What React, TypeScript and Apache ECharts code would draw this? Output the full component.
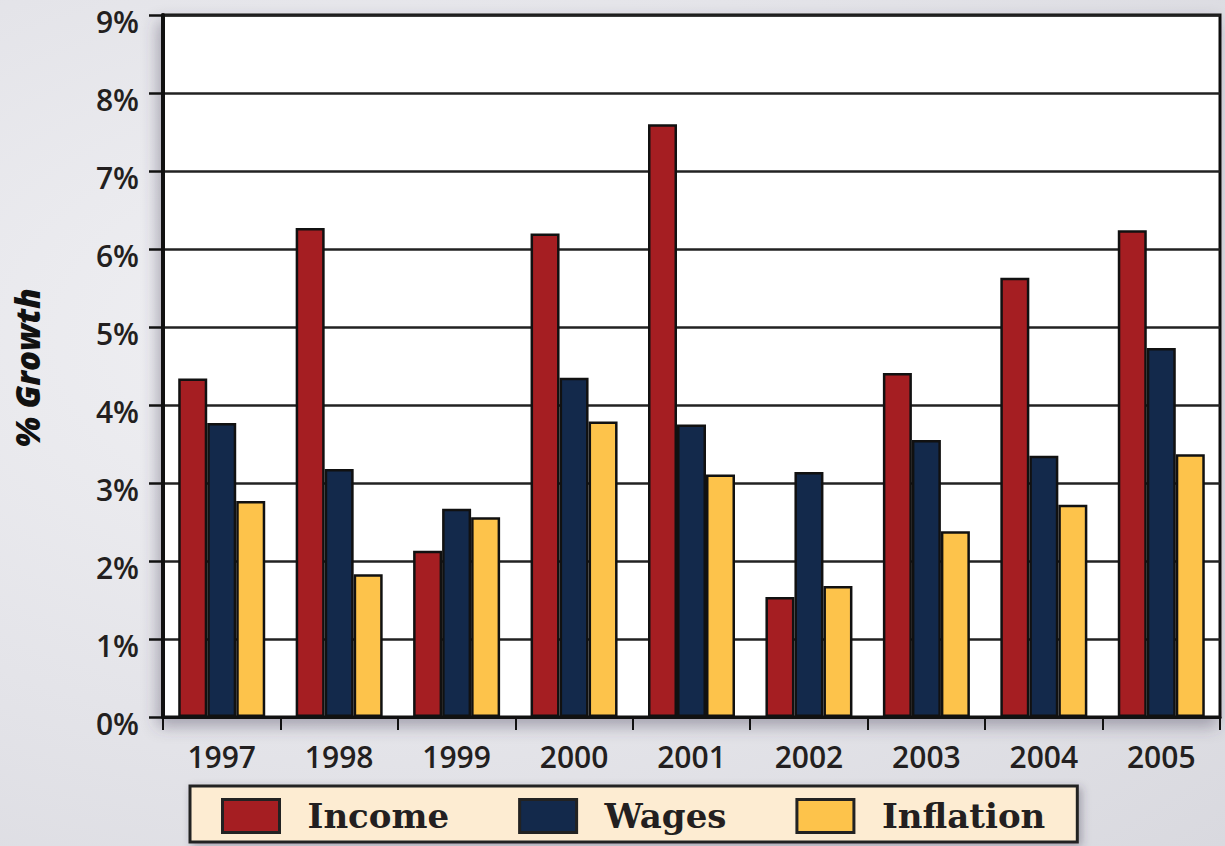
import React, { useEffect, useRef } from "react";
import * as echarts from "echarts";

const years = ["1997", "1998", "1999", "2000", "2001", "2002", "2003", "2004", "2005"];
const income = [4.34, 6.27, 2.13, 6.2, 7.6, 1.54, 4.41, 5.63, 6.24];
const wages = [3.77, 3.18, 2.67, 4.35, 3.75, 3.14, 3.55, 3.35, 4.73];
const inflation = [2.77, 1.83, 2.56, 3.79, 3.11, 1.68, 2.38, 2.72, 3.37];
const seriesNames = ["Income", "Wages", "Inflation"];
const colors = ["#a51e22", "#13294b", "#fdc34b"];
const yAxisTitle = "% Growth";

export default function App() {
  const ref = useRef<HTMLDivElement>(null);
  useEffect(() => {
    if (!ref.current) return;
    const chart = echarts.init(ref.current, null, { renderer: "svg" });
    const dataSets = [income, wages, inflation];
    chart.setOption({
      animation: false,
      backgroundColor: "transparent",
      grid: {
        left: 163,
        right: 5,
        top: 15,
        bottom: 129,
        show: true,
        backgroundColor: "#ffffff",
        borderColor: "#111111",
        borderWidth: 3,
        shadowColor: "rgba(70,60,90,0.4)",
        shadowBlur: 16,
        shadowOffsetX: -4,
        shadowOffsetY: 8,
      },
      graphic: [
        {
          type: "text",
          x: 27,
          y: 368,
          rotation: Math.PI / 2,
          style: {
            text: yAxisTitle,
            fontFamily: "Open Sans",
            fontWeight: 800,
            fontStyle: "italic",
            fontSize: 33,
            fill: "#111111",
            align: "center",
            verticalAlign: "middle",
          },
        },
      ],
      legend: {
        data: seriesNames,
        left: 190,
        top: 786,
        orient: "horizontal",
        selectedMode: false,
        backgroundColor: "#fdecd2",
        borderColor: "#222222",
        borderWidth: 3,
        padding: [12, 32, 8, 31],
        itemWidth: 57,
        itemHeight: 33,
        itemGap: 69,
        icon: "rect",
        shadowColor: "rgba(60,50,70,0.35)",
        shadowBlur: 8,
        shadowOffsetX: 3,
        shadowOffsetY: 3,
        itemStyle: { borderColor: "#222222", borderWidth: 3 },
        textStyle: {
          fontFamily: "DejaVu Serif",
          fontWeight: "bold",
          fontSize: 34,
          color: "#231f20",
          padding: [0, 0, 0, 23],
        },
      },
      xAxis: {
        type: "category",
        data: years,
        axisLine: { show: true, lineStyle: { color: "#111111", width: 3 } },
        axisTick: { show: true, length: 13, lineStyle: { color: "#111111", width: 2 } },
        axisLabel: {
          margin: 24,
          fontFamily: "Open Sans",
          fontWeight: 600,
          fontSize: 30,
          color: "#231f20",
        },
      },
      yAxis: {
        type: "value",
        min: 0,
        max: 9,
        interval: 1,
        axisLine: { show: true, lineStyle: { color: "#111111", width: 4 } },
        axisTick: { show: true, length: 14, lineStyle: { color: "#111111", width: 2.5 } },
        axisLabel: {
          margin: 24,
          formatter: (v: number) => `{a|${v}%}`,
          rich: {
            a: {
              fontFamily: "Open Sans",
              fontWeight: 600,
              fontSize: 30,
              color: "#231f20",
              padding: [12, 0, 0, 0],
            },
          },
        },
        splitLine: { show: true, lineStyle: { color: "#222222", width: 2.5 } },
      },
      series: seriesNames.map((name, i) => ({
        name,
        type: "bar",
        data: dataSets[i],
        barWidth: 29,
        barGap: "0%",
        itemStyle: { color: colors[i], borderColor: "#111111", borderWidth: 2.5 },
      })),
    });
    return () => chart.dispose();
  }, []);
  return (
    <div
      style={{
        position: "absolute",
        left: 0,
        top: 0,
        width: 1225,
        height: 846,
        background:
          "radial-gradient(ellipse at 30% 40%, #f1f1f4 0%, #e4e4e9 55%, #d9d9df 100%)",
      }}
    >
      <div ref={ref} style={{ width: 1225, height: 846 }} />
    </div>
  );
}
